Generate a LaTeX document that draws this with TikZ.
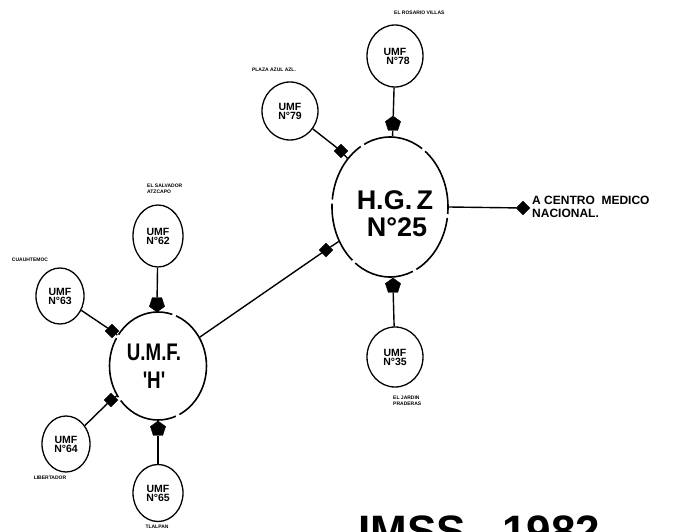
\documentclass[tikz,border=0pt]{standalone}
\usepackage{fontspec}
\setmainfont{Liberation Sans}
\newfontfamily\condf[FakeStretch=0.78]{Liberation Sans}
\usetikzlibrary{shapes.geometric}
\begin{document}
\begin{tikzpicture}[x=1pt,y=-1pt,
  bigc/.style={draw, ellipse, line width=1.6pt, inner sep=0pt, dash pattern=on 62pt off 4pt},
  smallc/.style={draw, ellipse, line width=1.3pt, inner sep=0pt, align=center,
     font=\bfseries\fontsize{10.5}{11}\selectfont},
  dia/.style={draw, fill, diamond, inner sep=0pt, minimum size=14pt},
  pent/.style={draw, fill, regular polygon, regular polygon sides=5, inner sep=0pt, minimum size=16pt},
  lbl/.style={font=\bfseries\fontsize{5}{5.5}\selectfont, inner sep=0pt},
  link/.style={line width=1.4pt}]
\useasboundingbox (0,0) rectangle (673,532);
\clip (0,0) rectangle (673,532);

% main circles
\node[bigc, minimum width=116pt, minimum height=140pt] (hgz) at (390,207) {};
\node[font=\bfseries\fontsize{27}{27}\selectfont, inner sep=0pt] (hgzt1) at (395,200) {H.G.\,Z};
\node[font=\bfseries\fontsize{27}{27}\selectfont, inner sep=0pt] (hgzt2) at (397,227) {N°25};

\node[bigc, minimum width=97pt, minimum height=108pt] (h) at (158,366) {};
\node[font=\condf\bfseries\fontsize{24}{24}\selectfont, inner sep=0pt] (ht1) at (154,352) {U.M.F.};
\node[font=\condf\bfseries\fontsize{24}{24}\selectfont, inner sep=0pt] (ht2) at (154,380) {'H'};

% small circles
\node[smallc, minimum width=56pt, minimum height=62pt] (u78) at (395,56) {UMF\\[-2pt]\hspace*{6pt}N°78};
\node[smallc, minimum width=56pt, minimum height=58pt] (u79) at (290,111) {UMF\\[-2pt]N°79};
\node[smallc, minimum width=50pt, minimum height=62pt] (u62) at (158,236) {UMF\\[-2pt]N°62};
\node[smallc, minimum width=48pt, minimum height=56pt] (u63) at (60,296) {UMF\\[-2pt]N°63};
\node[smallc, minimum width=48pt, minimum height=56pt] (u64) at (66,444) {UMF\\[-2pt]N°64};
\node[smallc, minimum width=50pt, minimum height=57pt] (u65) at (158,493) {UMF\\[-2pt]N°65};
\node[smallc, minimum width=56pt, minimum height=60pt] (u35) at (395,357) {UMF\\[-2pt]N°35};

% markers
\node[pent] (p78) at (393,124) {};
\node[dia] (d79) at (341,151) {};
\node[dia] (dcmn) at (523,208) {};
\node[pent] (p35) at (393,286) {};
\node[dia] (dh) at (326,250) {};
\node[pent, shape border rotate=180] (p62) at (157,304) {};
\node[dia] (d63) at (112,331) {};
\node[dia] (d64) at (111,400) {};
\node[pent] (p65) at (158,429) {};

% connectors
\draw[link] (u78) -- (p78) -- (hgz);
\draw[link] (u79) -- (d79) -- (hgz);
\draw[link] (hgz.east) -- (dcmn);
\draw[link] (u35) -- (p35) -- (hgz);
\draw[link] (h) -- (dh) -- (hgz);
\draw[link] (u62) -- (p62) -- (h);
\draw[link] (u63) -- (d63) -- (h);
\draw[link] (u64) -- (d64) -- (h);
\draw[link] (u65) -- (p65) -- (h);

% labels
\node[lbl, anchor=west] (l78) at (394,13) {EL ROSARIO VILLAS};
\node[lbl] (l79) at (274,70) {PLAZA AZUL AZL.};
\node[lbl, anchor=north west, align=left] (l62) at (147,184) {EL SALVADOR\\ATZCAPO};
\node[lbl] (l63) at (30,260) {CUAUHTEMOC};
\node[lbl] (l64) at (50,478) {LIBERTADOR};
\node[lbl] (l65) at (157,527) {TLALPAN};
\node[lbl, anchor=north west, align=left] (l35) at (393,396) {EL JARDIN\\PRADERAS};
\node[font=\bfseries\fontsize{12}{12.5}\selectfont, anchor=north west, align=left, inner sep=0pt] (lcmn) at (532,196) {A CENTRO\ \ MEDICO\\NACIONAL.};

% title (cut by the lower edge, as in the reference)
\node[font=\bfseries\fontsize{44}{44}\selectfont, anchor=base west, inner sep=0pt] (title) at (358,546) {IMSS.\ \ 1982};
\end{tikzpicture}
\end{document}
